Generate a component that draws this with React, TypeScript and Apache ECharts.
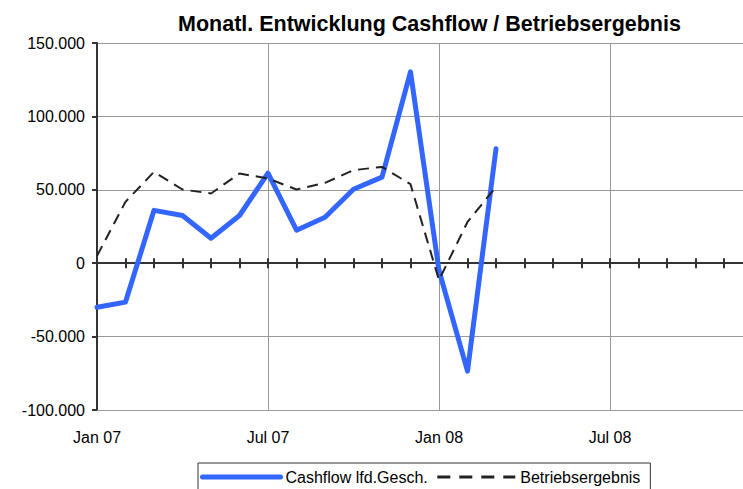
import React, { useEffect, useRef } from "react";
import * as echarts from "echarts";

// Months (index 0 = Jan 07)
const months = [
  "Jan 07", "Feb 07", "Mrz 07", "Apr 07", "Mai 07", "Jun 07", "Jul 07", "Aug 07",
  "Sep 07", "Okt 07", "Nov 07", "Dez 07", "Jan 08", "Feb 08", "Mrz 08",
];
const cashflow = [
  -30000, -26500, 36000, 32500, 17000, 32500, 61300, 22500,
  31300, 50400, 58600, 130300, -5000, -73500, 78000,
];
const betriebsergebnis = [
  5000, 41800, 62200, 50200, 47500, 61100, 57700, 50200,
  54700, 63400, 65600, 53800, -11500, 28100, 52000,
];
const xTickLabels = ["Jan 07", "Jul 07", "Jan 08", "Jul 08"];
const yMin = -100000;
const yMax = 150000;
const yStep = 50000;
const xSpanMonths = 24;

const FONT = "'Liberation Sans', Arial, sans-serif";

function fmtDe(v: number): string {
  const s = Math.abs(v).toString().replace(/\B(?=(\d{3})+(?!\d))/g, ".");
  return (v < 0 ? "-" : "") + s;
}

export default function App() {
  const ref = useRef<HTMLDivElement>(null);
  useEffect(() => {
    document.body.style.margin = "0";
    const chart = echarts.init(ref.current!, null, { renderer: "svg" });
    const cfData = months.map((_, i) => [i, cashflow[i]]);
    const beData = months.map((_, i) => [i, betriebsergebnis[i]]);
    chart.setOption({
      animation: false,
      backgroundColor: "#fff",
      title: {
        text: "Monatl. Entwicklung Cashflow / Betriebsergebnis",
        left: 173,
        top: 8,
        textStyle: { fontFamily: FONT, fontSize: 21.5, fontWeight: "bold", color: "#000" },
      },
      legend: {
        left: 198,
        top: 463,
        orient: "horizontal",
        itemWidth: 78,
        itemHeight: 14,
        itemGap: 8,
        padding: [6, 10, 12, 2],
        borderColor: "#333",
        borderWidth: 1,
        itemStyle: { opacity: 0 },
        textStyle: { fontFamily: FONT, fontSize: 16, color: "#000" },
        data: [
          { name: "Cashflow lfd.Gesch.", lineStyle: { width: 5, cap: "round" } },
          { name: "Betriebsergebnis", lineStyle: { width: 3, type: [13, 9] } },
        ],
      },
      grid: { left: 97, top: 43, bottom: 79, right: 19, containLabel: false },
      xAxis: [
        {
          type: "value",
          min: 0,
          max: xSpanMonths,
          interval: 6,
          position: "bottom",
          axisLine: { show: true, onZero: false, lineStyle: { color: "#999", width: 1 } },
          axisTick: { show: false },
          axisLabel: {
            show: true,
            margin: 19,
            fontFamily: FONT,
            fontSize: 16,
            color: "#000",
            formatter: (v: number) => xTickLabels[Math.round(v / 6)] ?? "",
          },
          splitLine: { show: true, lineStyle: { color: "#999", width: 1 } },
        },
        {
          type: "value",
          min: 0,
          max: xSpanMonths,
          interval: 1,
          position: "bottom",
          axisLine: { show: true, onZero: true, onZeroAxisIndex: 0, lineStyle: { color: "#333", width: 2 } },
          axisTick: { show: true, length: 5, lineStyle: { color: "#333", width: 2 } },
          axisLabel: { show: false },
          splitLine: { show: false },
        },
        {
          type: "value",
          min: 0,
          max: xSpanMonths,
          interval: 1,
          position: "top",
          axisLine: { show: false, onZero: true, onZeroAxisIndex: 0 },
          axisTick: { show: true, length: 5, lineStyle: { color: "#333", width: 2 } },
          axisLabel: { show: false },
          splitLine: { show: false },
        },
      ],
      yAxis: {
        type: "value",
        min: yMin,
        max: yMax,
        interval: yStep,
        axisLine: { show: true, onZero: false, lineStyle: { color: "#333", width: 2 } },
        axisTick: { show: true, length: 5, lineStyle: { color: "#333", width: 2 } },
        axisLabel: {
          margin: 12,
          fontFamily: FONT,
          fontSize: 16,
          color: "#000",
          formatter: (v: number) => fmtDe(v),
        },
        splitLine: { show: true, lineStyle: { color: "#999", width: 1 } },
      },
      series: [
        {
          name: "Cashflow lfd.Gesch.",
          type: "line",
          xAxisIndex: 0,
          data: cfData,
          symbol: "none",
          lineStyle: { color: "#3366FF", width: 5, join: "round", cap: "round" },
          itemStyle: { color: "#3366FF" },
          z: 3,
        },
        {
          name: "Betriebsergebnis",
          type: "line",
          xAxisIndex: 0,
          data: beData,
          symbol: "none",
          lineStyle: { color: "#222", width: 2, type: [11, 7] },
          itemStyle: { color: "#222" },
          z: 4,
        },
      ],
    });
    return () => chart.dispose();
  }, []);
  return (
    <div style={{ width: 743, height: 489, overflow: "hidden", position: "relative" }}>
      <div ref={ref} style={{ width: 800, height: 489 }} />
    </div>
  );
}
